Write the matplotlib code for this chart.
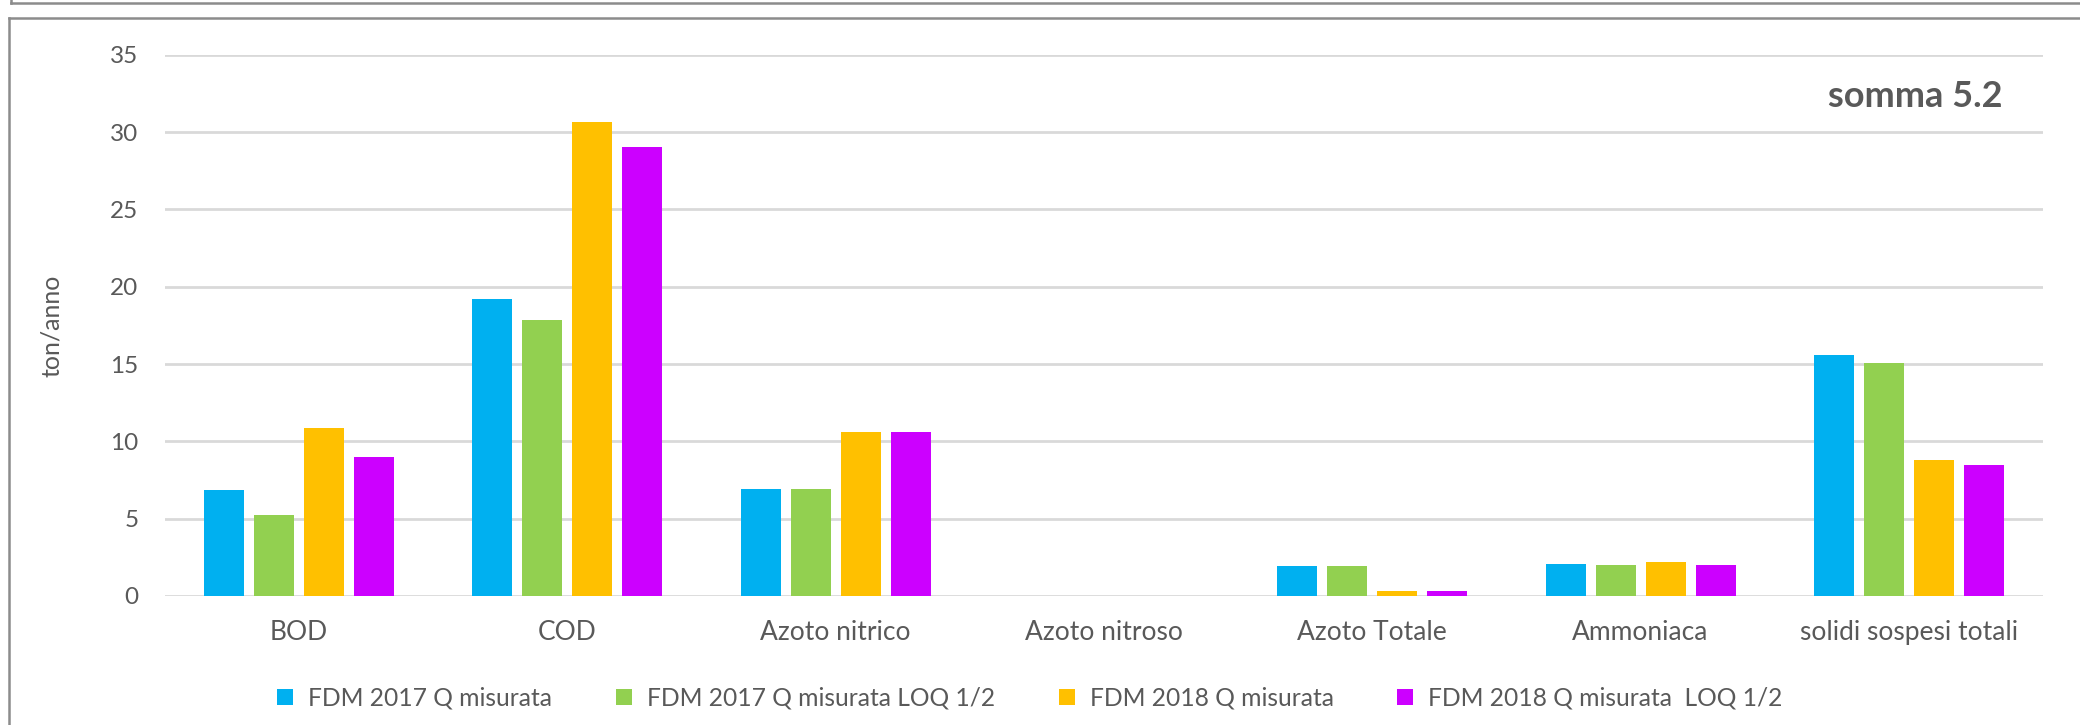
import matplotlib.pyplot as plt
from matplotlib.lines import Line2D
import numpy as np

plt.rcParams['font.family'] = ['Lato', 'DejaVu Sans']

# categories and series (ton/anno)
categories = ['BOD', 'COD', 'Azoto nitrico', 'Azoto nitroso', 'Azoto Totale',
              'Ammoniaca', 'solidi sospesi totali']
series_names = ['FDM 2017 Q misurata', 'FDM 2017 Q misurata LOQ 1/2',
                'FDM 2018 Q misurata', 'FDM 2018 Q misurata  LOQ 1/2']
fdm2017 = [6.84, 19.2, 6.93, 0.0, 1.94, 2.09, 15.6]
fdm2017_loq = [5.24, 17.83, 6.93, 0.0, 1.94, 2.0, 15.04]
fdm2018 = [10.84, 30.65, 10.58, 0.02, 0.32, 2.22, 8.8]
fdm2018_loq = [8.97, 29.03, 10.58, 0.02, 0.32, 2.03, 8.44]
colors = ['#00b0f0', '#92d050', '#ffc000', '#cc00ff']
yticks = [0, 5, 10, 15, 20, 25, 30, 35]

text_color = '#595959'
grid_color = '#d9d9d9'

fig = plt.figure(figsize=(20.8, 7.25), dpi=100)
ax = fig.add_axes([165 / 2080, 1 - 596 / 725, (2043 - 165) / 2080, (596 - 54.7) / 725])

x = np.arange(len(categories))
step = 50 / 268.3
width = 40 / 268.3
all_series = [fdm2017, fdm2017_loq, fdm2018, fdm2018_loq]
for i, (vals, name, col) in enumerate(zip(all_series, series_names, colors)):
    ax.bar(x + (i - 1.5) * step, vals, width=width, color=col, label=name, zorder=3)

ax.set_xlim(-0.5, len(categories) - 0.5)
ax.set_ylim(0, 35)
ax.set_yticks(yticks)
ax.set_xticks(x)
ax.set_xticklabels(categories)
ax.yaxis.grid(True, color=grid_color, linewidth=2, zorder=0)
ax.set_axisbelow(True)
for s in ax.spines.values():
    s.set_visible(False)
ax.tick_params(axis='both', length=0, colors=text_color)
ax.tick_params(axis='y', pad=19, labelsize=17.5)
ax.tick_params(axis='x', pad=17, labelsize=19)
ax.set_ylabel('ton/anno', color=text_color, fontsize=18, labelpad=34)

ax.text(0.932, 0.922, 'somma 5.2', transform=ax.transAxes, ha='center', va='center',
        fontsize=26, fontweight='bold', color=text_color)

leg = fig.legend(loc='center', bbox_to_anchor=(1030 / 2080, 1 - 698 / 725), ncol=4,
                 frameon=False, fontsize=17.7, handlelength=0.65, handleheight=0.65,
                 handletextpad=0.6, columnspacing=2.6, labelcolor=text_color)

# outer frames
frame_col = '#8c8c8c'
def fl(xs, ys):
    fig.add_artist(Line2D([v / 2080 for v in xs], [1 - v / 725 for v in ys],
                          color=frame_col, linewidth=1.8, transform=fig.transFigure))
fl([11, 2080], [2.5, 2.5])
fl([11, 11], [0, 2.5])
fl([9, 2080], [18, 18])
fl([9, 9], [18, 725])

fig.savefig('out.png', dpi=100)
